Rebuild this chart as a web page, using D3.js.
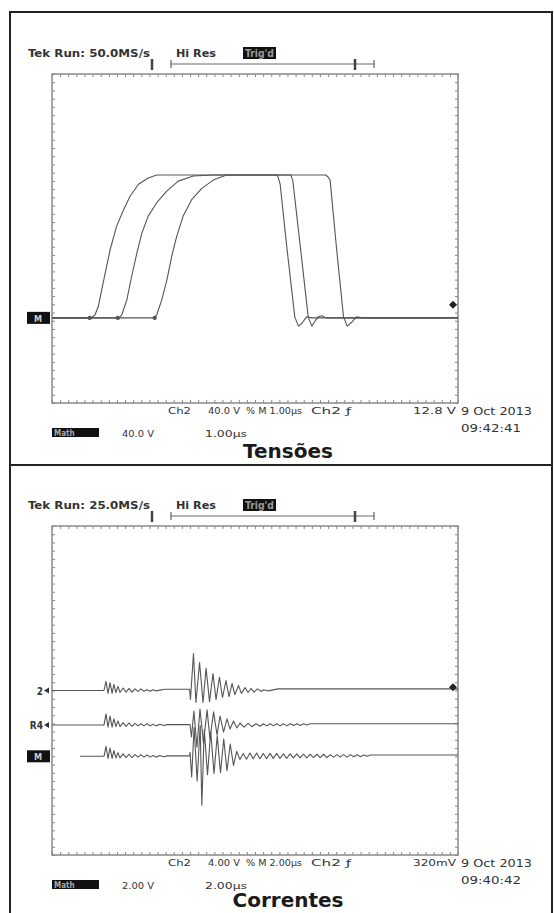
<!DOCTYPE html>
<html>
<head>
<meta charset="utf-8">
<script src="https://cdnjs.cloudflare.com/ajax/libs/d3/7.8.5/d3.min.js"></script>
<style>
  body { margin: 0; background: #fff; }
  svg { display: block; }
  .scope { font-family: "DejaVu Sans Condensed", "DejaVu Sans", sans-serif; font-weight: bold; fill: #333; }
  .stamp { font-family: "DejaVu Sans", sans-serif; fill: #333; }
  .title { font-family: "DejaVu Sans", sans-serif; font-weight: bold; fill: #1a1a1a; }
</style>
</head>
<body>
<div id="chart"></div>
<script>
// ---- top capture: "Tensões" (time in µs, volts, 1.00 µs/div, 40.0 V/div)
var tensaoA = [[0,0],[0.95,0],[1.0,1],[1.06,3],[1.14,11],[1.26,34],[1.43,66],[1.59,89],[1.76,105],[1.92,118],
  [2.13,130],[2.37,136],[2.58,139],[4.0,139],[5.55,139],[5.62,130],[5.78,70],[5.98,1],[6.07,-8],[6.16,-5],
  [6.27,1],[6.40,0],[10,0]];
var tensaoB = [[0,0],[1.65,0],[1.72,3],[1.84,17],[1.96,40],[2.09,63],[2.21,82],[2.37,99],[2.58,112],[2.82,123],
  [3.11,133],[3.48,138],[3.97,139],[5.88,139],[5.93,134],[6.12,68],[6.31,1],[6.40,-8],[6.48,-3],[6.56,1],
  [6.65,2],[6.75,0],[10,0]];
var tensaoC = [[0,0],[2.50,0],[2.58,3],[2.70,17],[2.83,37],[2.95,60],[3.07,79],[3.23,99],[3.44,115],[3.69,126],
  [3.97,134],[4.30,139],[4.63,139],[6.74,139],[6.80,137],[6.85,134],[7.01,67],[7.18,1],[7.27,-8],[7.39,-4],
  [7.50,1],[7.65,0],[10,0]];
var tensaoGlitch = [0.93, 1.62, 2.53];
var tensaoTrig = 12.8;

// ---- bottom capture: "Correntes" (time in µs, 2.00 µs/div, amplitude in divisions)
var corrente2 = [[0,0],[2.56,0],[2.66,0.22],[2.76,-0.07],[2.86,0.19],[2.96,-0.07],[3.05,0.15],[3.15,-0.05],
  [3.25,0.10],[3.35,-0.05],[3.50,0.06],[3.65,-0.04],[3.79,0.05],[3.94,-0.04],[4.09,0.04],[4.24,-0.02],
  [4.38,0.04],[4.53,-0.02],[4.68,0.02],[4.83,-0.02],[4.98,0.02],[5.12,-0.01],[5.32,0.01],[5.57,0.03],
  [6.78,0.03],[6.82,-0.22],[6.97,0.90],[7.09,-0.29],[7.27,0.68],[7.44,-0.29],[7.59,0.54],[7.76,-0.27],
  [7.93,0.41],[8.08,-0.22],[8.25,0.32],[8.40,-0.17],[8.57,0.24],[8.72,-0.15],[8.87,0.17],[9.01,-0.10],
  [9.19,0.12],[9.33,-0.07],[9.51,0.07],[9.66,-0.05],[9.80,0.05],[9.95,-0.04],[10.12,0.04],[10.30,-0.02],
  [10.44,0.02],[10.64,-0.01],[10.84,0.01],[11.13,0.04],[20,0.04]];
var correnteR4 = [[0,0],[2.56,0],[2.66,0.27],[2.76,-0.05],[2.86,0.22],[2.96,-0.05],[3.05,0.15],[3.15,-0.04],
  [3.25,0.10],[3.35,-0.04],[3.50,0.06],[3.65,-0.03],[3.79,0.05],[3.94,-0.03],[4.09,0.04],[4.24,-0.02],
  [4.38,0.03],[4.53,-0.02],[4.68,0.03],[4.83,-0.02],[4.98,0.02],[5.12,-0.02],[5.32,0.02],[5.50,-0.01],
  [5.67,0.01],[6.80,0.01],[6.87,-0.29],[6.99,0.34],[7.14,-0.54],[7.29,0.39],[7.46,-0.44],[7.64,0.37],
  [7.78,-0.34],[7.96,0.32],[8.13,-0.24],[8.28,0.22],[8.45,-0.17],[8.62,0.15],[8.77,-0.10],[8.94,0.10],
  [9.11,-0.07],[9.26,0.05],[9.46,-0.05],[9.66,0.04],[9.85,-0.04],[10.05,0.03],[10.25,-0.03],[10.41,0.03],
  [10.58,-0.02],[10.74,0.03],[10.91,-0.02],[11.07,0.03],[11.24,-0.02],[11.40,0.03],[11.57,-0.02],
  [11.73,0.03],[11.90,-0.01],[12.06,0.03],[12.23,-0.01],[12.39,0.03],[12.56,0.0],[12.72,0.03],[12.86,0.03],
  [20,0.03]];
var correnteM = [[1.38,0],[2.56,0],[2.66,0.24],[2.76,-0.05],[2.86,0.20],[2.96,-0.05],[3.05,0.14],[3.15,-0.04],
  [3.25,0.09],[3.35,-0.04],[3.50,0.06],[3.65,-0.03],[3.79,0.05],[3.94,-0.03],[4.09,0.04],[4.24,-0.02],
  [4.38,0.04],[4.53,-0.02],[4.68,0.03],[4.83,-0.02],[4.98,0.02],[5.12,-0.02],[5.32,0.02],[5.50,-0.01],
  [5.67,0.01],[6.78,0.01],[6.80,0.10],[6.88,-0.50],[7.00,0.70],[7.15,-0.60],[7.30,0.75],[7.38,-1.19],
  [7.50,0.65],[7.66,-0.45],[7.82,0.60],[7.98,-0.42],[8.14,0.50],[8.30,-0.40],[8.46,0.42],[8.62,-0.35],
  [8.78,0.30],[8.94,-0.22],[9.10,0.12],[9.26,-0.08],[9.42,0.07],[9.58,-0.07],[9.75,0.08],[9.91,-0.06],
  [10.08,0.08],[10.24,-0.06],[10.41,0.07],[10.57,-0.06],[10.74,0.07],[10.90,-0.05],[11.07,0.07],
  [11.23,-0.05],[11.40,0.06],[11.56,-0.05],[11.73,0.06],[11.89,-0.04],[12.06,0.06],[12.22,-0.04],
  [12.39,0.05],[12.55,-0.04],[12.72,0.05],[12.88,-0.03],[13.05,0.05],[13.21,-0.03],[13.38,0.05],
  [13.54,-0.03],[13.71,0.04],[13.87,-0.02],[14.04,0.04],[14.20,-0.02],[14.37,0.04],[14.53,-0.02],
  [14.70,0.04],[14.86,-0.01],[15.03,0.04],[15.19,-0.01],[15.36,0.03],[15.52,0.0],[15.69,0.03],[15.85,0.03],
  [20,0.03]];
var correnteTrig = 0.32; // V, Ch2 at 4.00 V/div

// ---- labels
var headers = ["Tek Run: 50.0MS/s", "Tek Run: 25.0MS/s"];
var row1 = [["Ch2", "40.0 V", "% M 1.00µs", "Ch2 ƒ", "12.8 V"], ["Ch2", "4.00 V", "% M 2.00µs", "Ch2 ƒ", "320mV"]];
var row2 = [["40.0 V", "1.00µs"], ["2.00 V", "2.00µs"]];
var dates = ["9 Oct 2013", "9 Oct 2013"];
var times = ["09:42:41", "09:40:42"];
var titles = ["Tensões", "Correntes"];

var W = 554, H = 913;
var svg = d3.select("#chart").append("svg").attr("width", W).attr("height", H);

// outer frame
var frame = svg.append("g").attr("stroke", "#222").attr("stroke-width", 2).attr("fill", "none");
frame.append("path").attr("d", "M10,913 V12 H552 V913");
frame.append("line").attr("x1", 10).attr("x2", 552).attr("y1", 465).attr("y2", 465);

function drawPanel(p, dy, timeDiv, traces, opts) {
  var g = svg.append("g").attr("transform", "translate(0," + dy + ")");
  var L = 52, R = 458, T = 74, B = 403;
  var gx = d3.scaleLinear().domain([0, 10]).range([L, R]);
  var gy = d3.scaleLinear().domain([-4, 4]).range([B, T]);
  var x = d3.scaleLinear().domain([0, 10 * timeDiv]).range([L, R]);

  // graticule frame + ticks
  g.append("rect").attr("x", L).attr("y", T).attr("width", R - L).attr("height", B - T)
    .attr("fill", "none").attr("stroke", "#777").attr("stroke-width", 1.3);
  var hv = d3.range(0, 10.001, 0.2), vv = d3.range(-4, 4.001, 0.2);
  function tk(axis, tr) {
    g.append("g").attr("transform", tr).call(axis)
      .call(function (s) { s.select(".domain").remove(); s.selectAll("line").attr("stroke", "#888"); });
  }
  tk(d3.axisTop(gx).tickValues(hv).tickSize(-3).tickFormat(""), "translate(0," + T + ")");
  tk(d3.axisBottom(gx).tickValues(hv).tickSize(-3).tickFormat(""), "translate(0," + B + ")");
  tk(d3.axisLeft(gy).tickValues(vv).tickSize(-3).tickFormat(""), "translate(" + L + ",0)");
  tk(d3.axisRight(gy).tickValues(vv).tickSize(-3).tickFormat(""), "translate(" + R + ",0)");

  // waveforms
  traces.forEach(function (tr) {
    var y = tr.y;
    g.append("path").datum(tr.data)
      .attr("fill", "none").attr("stroke", "#555").attr("stroke-width", 1.1).attr("stroke-linejoin", "round")
      .attr("d", d3.line().x(function (d) { return x(d[0]); }).y(function (d) { return y(d[1]); }));
  });
  opts.extra && opts.extra(g, x);

  // trigger level arrow (right edge)
  var ty = opts.trigY;
  g.append("path").attr("d", "M" + (R - 9) + "," + ty + " l4,-4 l4,4 l-4,4 z").attr("fill", "#222");

  // ground markers (left edge)
  opts.markers.forEach(function (m) {
    if (m.box) {
      g.append("rect").attr("x", 27).attr("y", m.y - 6).attr("width", 23).attr("height", 12).attr("fill", "#111");
      g.append("text").attr("x", 38).attr("y", m.y + 4).attr("text-anchor", "middle")
        .attr("font-size", 9).attr("class", "scope").style("fill", "#ccc").text(m.label);
    } else {
      g.append("text").attr("x", 43).attr("y", m.y + 4).attr("text-anchor", "end")
        .attr("font-size", 10).attr("class", "scope").text(m.label);
      g.append("path").attr("d", "M44," + m.y + " l5,-3 v6 z").attr("fill", "#333");
    }
  });

  // header
  g.append("text").attr("class", "scope").attr("x", 28).attr("y", 57).attr("font-size", 11)
    .attr("textLength", 122).attr("lengthAdjust", "spacingAndGlyphs").text(headers[p]);
  g.append("text").attr("class", "scope").attr("x", 176).attr("y", 57).attr("font-size", 11)
    .attr("textLength", 40).attr("lengthAdjust", "spacingAndGlyphs").text("Hi Res");
  g.append("rect").attr("x", 243).attr("y", 47).attr("width", 33).attr("height", 12).attr("fill", "#111");
  g.append("text").attr("class", "scope").attr("x", 245).attr("y", 57).attr("font-size", 10)
    .attr("textLength", 29).attr("lengthAdjust", "spacingAndGlyphs").style("fill", "#999").text("Trig'd");

  // record bracket
  var br = g.append("g").attr("stroke", "#444");
  br.append("line").attr("x1", 171).attr("x2", 374).attr("y1", 64).attr("y2", 64).attr("stroke-width", 0.8);
  br.append("line").attr("x1", 171).attr("x2", 171).attr("y1", 60).attr("y2", 68).attr("stroke-width", 1);
  br.append("line").attr("x1", 374).attr("x2", 374).attr("y1", 60).attr("y2", 68).attr("stroke-width", 1);
  br.append("line").attr("x1", 152).attr("x2", 152).attr("y1", 59).attr("y2", 70).attr("stroke-width", 2.5);
  br.append("line").attr("x1", 355).attr("x2", 355).attr("y1", 59).attr("y2", 70).attr("stroke-width", 2.5);

  // footer rows
  var r1x = [[168, 23], [208, 32], [246, 56], [311, 40], [413, 43]];
  row1[p].forEach(function (s, i) {
    g.append("text").attr("class", "scope").attr("x", r1x[i][0]).attr("y", 414).attr("font-size", 9.5)
      .attr("textLength", r1x[i][1]).attr("lengthAdjust", "spacingAndGlyphs").style("font-weight", "normal").text(s);
  });
  g.append("rect").attr("x", 52).attr("y", 428).attr("width", 47).attr("height", 9).attr("fill", "#111");
  g.append("text").attr("class", "scope").attr("x", 54).attr("y", 436).attr("font-size", 8).style("fill", "#aaa").text("Math");
  var r2x = [[122, 32], [205, 42]];
  row2[p].forEach(function (s, i) {
    g.append("text").attr("class", "scope").attr("x", r2x[i][0]).attr("y", 437).attr("font-size", 9.5)
      .attr("textLength", r2x[i][1]).attr("lengthAdjust", "spacingAndGlyphs").style("font-weight", "normal").text(s);
  });
  g.append("text").attr("class", "stamp").attr("x", 461).attr("y", 415).attr("font-size", 10.5)
    .attr("textLength", 71).attr("lengthAdjust", "spacingAndGlyphs").text(dates[p]);
  g.append("text").attr("class", "stamp").attr("x", 461).attr("y", 432).attr("font-size", 10.5)
    .attr("textLength", 60).attr("lengthAdjust", "spacingAndGlyphs").text(times[p]);
  g.append("text").attr("class", "title").attr("x", 288).attr("y", opts.titleY).attr("font-size", 20)
    .attr("text-anchor", "middle").text(titles[p]);

  return { gy: gy };
}

// top panel: volts, 40 V/div, ground 1.93 div below centre
var vpd = 40, gndTop = -1.93;
var yTop = d3.scaleLinear().domain([(-4 - gndTop) * vpd, (4 - gndTop) * vpd]).range([403, 74]);
drawPanel(0, 0, 1.0, [
  { data: tensaoA, y: yTop }, { data: tensaoB, y: yTop }, { data: tensaoC, y: yTop }
], {
  trigY: yTop(tensaoTrig),
  titleY: 458,
  markers: [{ label: "M", y: yTop(0), box: true }],
  extra: function (g, x) {
    g.selectAll("circle.gl").data(tensaoGlitch).enter().append("circle")
      .attr("cx", function (d) { return x(d); }).attr("cy", yTop(0)).attr("r", 2.2).attr("fill", "#555");
  }
});

// bottom panel: divisions, each trace with its own ground offset
var off2 = 0, offR4 = -0.84, offM = -1.6, ch2vpd = 4;
var gyBot = d3.scaleLinear().domain([-4, 4]).range([403, 74]);
function shifted(o) { return function (v) { return gyBot(v + o); }; }
drawPanel(1, 452, 2.0, [
  { data: corrente2, y: shifted(off2) }, { data: correnteR4, y: shifted(offR4) }, { data: correnteM, y: shifted(offM) }
], {
  trigY: gyBot(off2 + correnteTrig / ch2vpd),
  titleY: 455,
  markers: [
    { label: "2", y: gyBot(off2) },
    { label: "R4", y: gyBot(offR4) },
    { label: "M", y: gyBot(offM), box: true }
  ]
});
</script>
</body>
</html>
